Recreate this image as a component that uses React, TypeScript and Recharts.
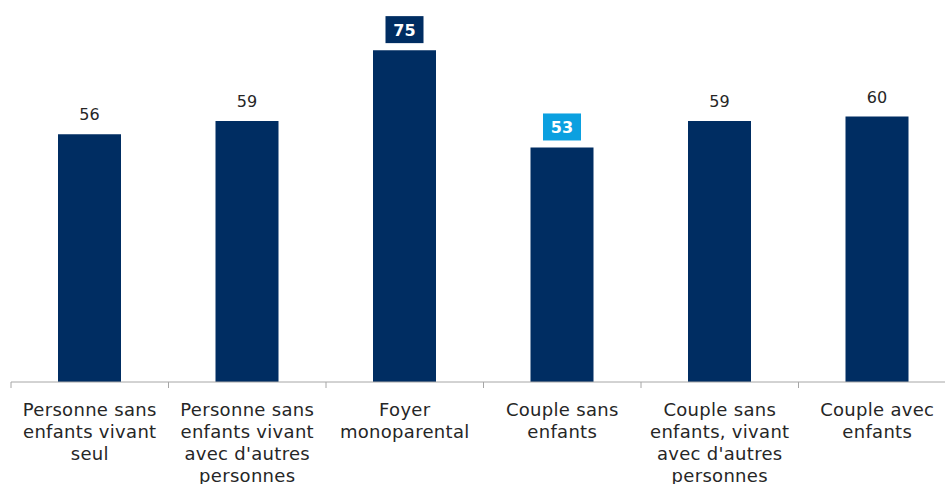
import { BarChart, Bar, XAxis, YAxis, LabelList } from 'recharts';

const categories = [
  'Personne sans enfants vivant seul',
  "Personne sans enfants vivant avec d'autres personnes",
  'Foyer monoparental',
  'Couple sans enfants',
  "Couple sans enfants, vivant avec d'autres personnes",
  'Couple avec enfants',
];

const tickLines = [
  ['Personne sans', 'enfants vivant', 'seul'],
  ['Personne sans', 'enfants vivant', "avec d'autres", 'personnes'],
  ['Foyer', 'monoparental'],
  ['Couple sans', 'enfants'],
  ['Couple sans', 'enfants, vivant', "avec d'autres", 'personnes'],
  ['Couple avec', 'enfants'],
];

const values = [56, 59, 75, 53, 59, 60];

const data = categories.map((name, i) => ({ name, value: values[i] }));

const NAVY = '#002d62';
const LIGHT = '#0ba0e0';
const FONT = '"DejaVu Sans", Verdana, sans-serif';

// boxed labels: index -> box colour
const boxed: Record<number, string> = { 2: NAVY, 3: LIGHT };

const CAT_W = 157.5;

function Tick(props: any) {
  const { x, y, index } = props;
  const lines = tickLines[index] || [];
  const top = y - 8; // axis line position
  return (
    <g>
      <line x1={x - CAT_W / 2} x2={x - CAT_W / 2} y1={top} y2={top + 6} stroke="#a6a6a6" />
      <text x={x} y={top + 34} textAnchor="middle" fontFamily={FONT} fontSize={18} letterSpacing={0.3} fill="#262626">
        {lines.map((l, i) => (
          <tspan key={i} x={x} dy={i === 0 ? 0 : 22}>{l}</tspan>
        ))}
      </text>
    </g>
  );
}

function ValueLabel(props: any) {
  const { x, y, width, value, index } = props;
  const cx = x + width / 2;
  const box = boxed[index];
  if (box) {
    return (
      <g>
        <rect x={cx - 19} y={y - 34} width={38} height={27} fill={box} />
        <text x={cx} y={y - 14.5} textAnchor="middle" fontFamily={FONT} fontSize={16} fontWeight="bold" fill="#fff">
          {value}
        </text>
      </g>
    );
  }
  return (
    <text x={cx} y={y - 14} textAnchor="middle" fontFamily={FONT} fontSize={16} fill="#262626">
      {value}
    </text>
  );
}

export default function App() {
  return (
    <div style={{ position: 'absolute', left: 0, top: 0, width: 945, height: 484, overflow: 'hidden', background: '#fff' }}>
      <BarChart
        width={960}
        height={500}
        data={data}
        margin={{ top: 28, right: 4, bottom: 0, left: 11 }}
        barSize={63}
      >
        <XAxis
          dataKey="name"
          interval={0}
          height={118}
          axisLine={{ stroke: '#a6a6a6' }}
          tickLine={false}
          tick={<Tick />}
        />
        <YAxis hide domain={[0, 80]} />
        <Bar dataKey="value" fill={NAVY} isAnimationActive={false}>
          <LabelList dataKey="value" content={<ValueLabel />} />
        </Bar>
      </BarChart>
    </div>
  );
}
